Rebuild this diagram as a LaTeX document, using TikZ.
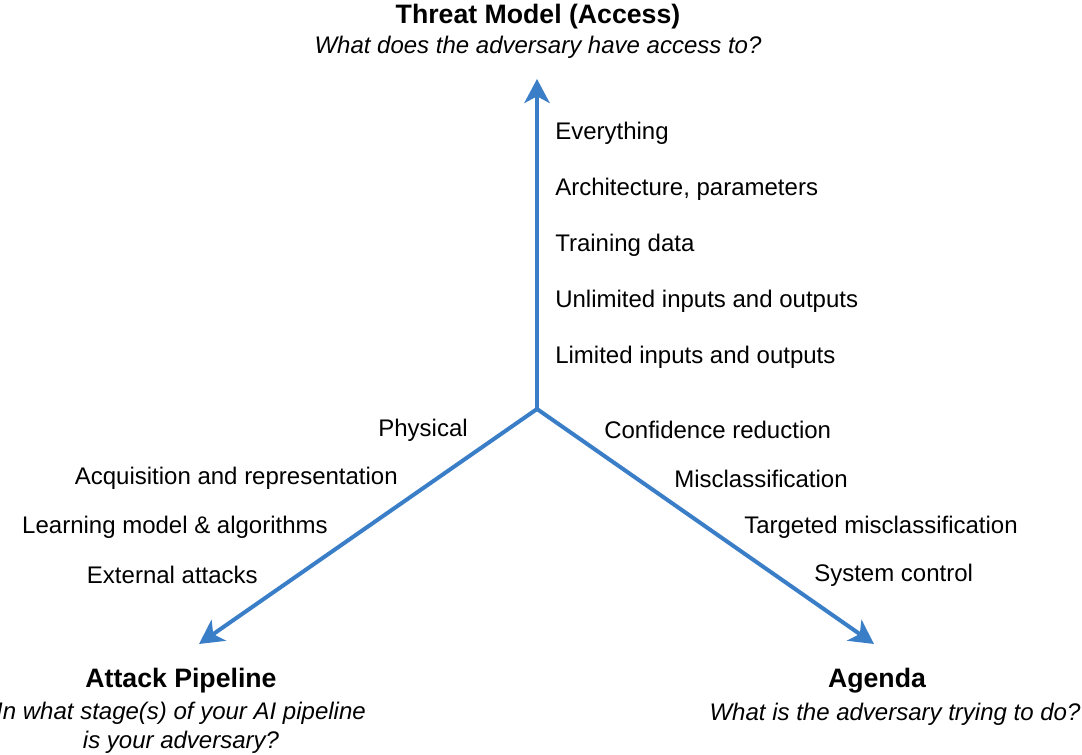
\documentclass[tikz,border=0pt]{standalone}
\usepackage{fontspec}
\setmainfont{Liberation Sans}
\usetikzlibrary{arrows.meta,positioning}
\definecolor{axisblue}{RGB}{58,126,200}
\tikzset{
  axis/.style={draw=axisblue, line width=3pt, -{Stealth[length=18pt,width=19pt,inset=5pt]}},
  item/.style={font=\fontsize{18}{21}\selectfont, inner sep=0pt},
  heading/.style={font=\fontsize{20}{24}\selectfont\bfseries, inner sep=0pt},
  question/.style={font=\fontsize{18}{21.75}\selectfont\itshape, inner sep=0pt, align=center},
}

\begin{document}
\begin{tikzpicture}[x=0.75pt,y=-0.75pt]
  \useasboundingbox (0,0) rectangle (1082,755);

  % the three axes
  \coordinate (o) at (537,409);
  \coordinate (access) at (537,79);
  \coordinate (pipeline) at (199,644);
  \coordinate (agenda) at (874,644);
  \draw[axis] (o) -- (access);
  \draw[axis] (o) -- (pipeline);
  \draw[axis] (o) -- (agenda);

  % headings
  \node[heading] (accesstitle) at (538,17) {Threat Model (Access)};
  \node[question] (accessq) at (538,47) {What does the adversary have access to?};
  \node[heading] (pipelinetitle) at (181,681) {Attack Pipeline};
  \node[question] (pipelineq) at (181,728) {In what stage(s) of your AI pipeline\\is your adversary?};
  \node[heading] (agendatitle) at (877,681) {Agenda};
  \node[question] (agendaq) at (895,714) {What is the adversary trying to do?};

  % access levels
  \foreach \txt [count=\i] in {Everything, {Architecture, parameters}, Training data,
      Unlimited inputs and outputs, Limited inputs and outputs}
    \node[item, anchor=west] (acc\i) at (555,77+56*\i) {\txt};

  % pipeline stages
  \foreach \txt [count=\i] in {Physical, Acquisition and representation,
      Learning model \& algorithms, External attacks}
    \node[item, anchor=east] (pip\i) at (538-70*\i,382+48.3*\i) {\txt};

  % agenda goals
  \foreach \txt [count=\i] in {Confidence reduction, Misclassification,
      Targeted misclassification, System control}
    \node[item, anchor=west] (age\i) at (534+70*\i,382+48.3*\i) {\txt};
\end{tikzpicture}
\end{document}
